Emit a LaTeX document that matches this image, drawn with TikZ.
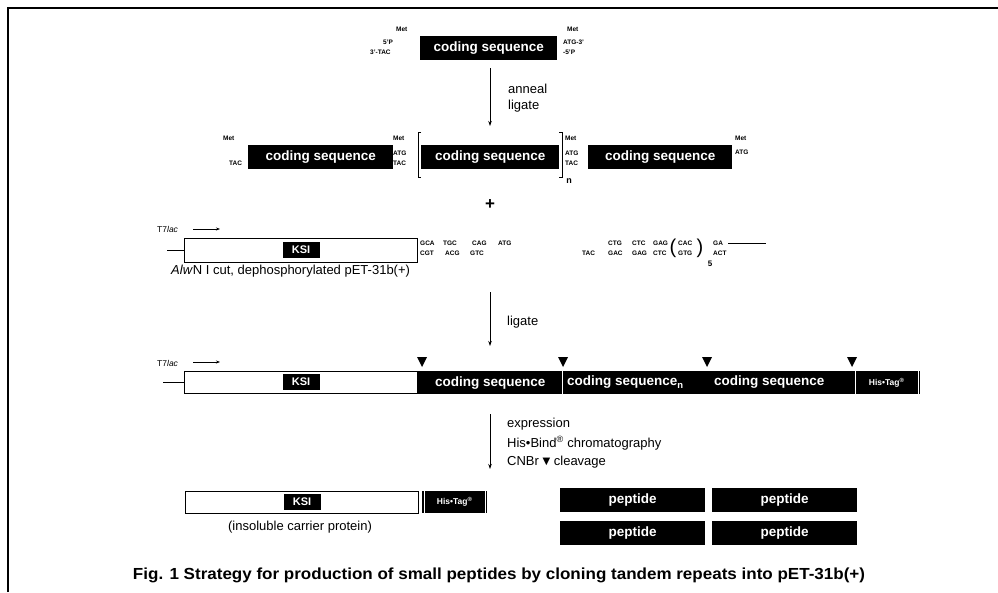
\documentclass[tikz,border=0pt]{standalone}
\usepackage{fontspec}
\setmainfont{Liberation Sans}
\usepackage{graphicx}
\usetikzlibrary{arrows.meta}
\tikzset{
  blk/.style={fill=black, text=white, font=\bfseries\fontsize{13.5}{14}\selectfont, inner sep=0, anchor=north west, minimum height=24pt},
  pep/.style={blk, minimum width=145pt},
  wbox/.style={draw=black, line width=1pt, fill=white, inner sep=0, anchor=north west, minimum height=22pt, minimum width=233pt},
  ksi/.style={fill=black, text=white, font=\bfseries\fontsize{11}{11}\selectfont, inner sep=0, minimum width=37pt, minimum height=16pt},
  dna/.style={font=\bfseries\fontsize{6.5}{7}\selectfont, inner sep=0, anchor=west},
  lbl/.style={font=\fontsize{13}{14}\selectfont, inner sep=0, anchor=west},
  tsm/.style={font=\fontsize{8.5}{9}\selectfont, inner sep=0, anchor=west},
  flow/.style={line width=0.8pt, -{Stealth[length=5pt,width=3.5pt]}},
  prom/.style={line width=0.8pt, -{Stealth[length=4pt,width=3pt]}},
  cut/.style={fill=black},
  his/.style={fill=black, text=white, font=\bfseries\fontsize{8.5}{9}\selectfont, inner sep=0, anchor=north west, minimum height=24pt},
}
\begin{document}
\begin{tikzpicture}[x=1pt,y=-1pt]
\useasboundingbox (0,0) rectangle (998,592);
% frame
\draw[line width=1.2pt] (8,592) -- (8,8) -- (998,8);

% ---- top duplex
\node[blk, minimum width=137pt] (top) at (420,36) {coding sequence};
\node[dna] (tm1) at (396,29) {Met};
\node[dna] (t5) at (383,42) {5'P};
\node[dna] (t3) at (370,52) {3'-TAC};
\node[dna] (tm2) at (567,29) {Met};
\node[dna] (tr1) at (563,42) {ATG-3'};
\node[dna] (tr2) at (563,52) {-5'P};

% arrow 1
\coordinate (a1s) at (490,68);
\coordinate (a1e) at (490,126);
\draw[flow] (a1s) -- (a1e);
\node[lbl] (anneal) at (508,89) {anneal};
\node[lbl] (ligate1) at (508,106) {ligate};

% ---- concatemer row
\node[blk, minimum width=145pt] (c1) at (248,145) {coding sequence};
\node[blk, minimum width=138pt] (c2) at (421,145) {coding sequence};
\node[blk, minimum width=144pt] (c3) at (588,145) {coding sequence};
\node[dna] (m1) at (223,138) {Met};
\node[dna] (b1) at (229,163) {TAC};
\node[dna] (m2) at (393,138) {Met};
\node[dna] (a2) at (393,153) {ATG};
\node[dna] (b2) at (393,163) {TAC};
\node[dna] (m3) at (565,138) {Met};
\node[dna] (a3) at (565,153) {ATG};
\node[dna] (b3) at (565,163) {TAC};
\node[dna] (m4) at (735,138) {Met};
\node[dna] (a4) at (735,152) {ATG};
\draw[line width=1pt] (421,132) -- (418,132) -- (418,177) -- (421,177);
\draw[line width=1pt] (559,132) -- (562,132) -- (562,177) -- (559,177);
\node[font=\bfseries\fontsize{9}{9}\selectfont, inner sep=0] (nn) at (569,181) {n};

% plus
\node[font=\bfseries\fontsize{17}{17}\selectfont, inner sep=0] (plus) at (490,205) {+};

% ---- vector row
\node[tsm] (t7a) at (157,229) {T7\textit{lac}};
\coordinate (p1s) at (193,229);
\coordinate (p1e) at (220,229);
\draw[prom] (p1s) -- (p1e);
\node[wbox, minimum height=24pt] (vec) at (184,238) {};
\coordinate (st1) at (167,250);
\draw[line width=1pt] (st1) -- (st1 -| vec.west);
\node[ksi] (ksi1) at (301,250) {KSI};
\node[dna] (l1) at (420,243) {GCA};
\node[dna] (l2) at (443,243) {TGC};
\node[dna] (l3) at (472,243) {CAG};
\node[dna] (l4) at (498,243) {ATG};
\node[dna] (l5) at (420,253) {CGT};
\node[dna] (l6) at (445,253) {ACG};
\node[dna] (l7) at (470,253) {GTC};
\node[dna] (r1) at (608,243) {CTG};
\node[dna] (r2) at (632,243) {CTC};
\node[dna] (r3) at (653,243) {GAG};
\node[dna] (r4) at (678,243) {CAC};
\node[dna] (r5) at (713,243) {GA};
\node[dna] (r6) at (582,253) {TAC};
\node[dna] (r7) at (608,253) {GAC};
\node[dna] (r8) at (632,253) {GAG};
\node[dna] (r9) at (653,253) {CTC};
\node[dna] (r10) at (678,253) {GTG};
\node[dna] (r11) at (713,253) {ACT};
\node[font=\fontsize{20}{20}\selectfont, inner sep=0] (lp) at (673,248) {(};
\node[font=\fontsize{20}{20}\selectfont, inner sep=0] (rp) at (700,248) {)};
\node[font=\bfseries\fontsize{8}{8}\selectfont, inner sep=0] (five) at (710,264) {5};
\draw[line width=0.9pt] ([xshift=5pt]r5.east) coordinate (ln1) -- ++(38,0) coordinate (ln2);
\node[lbl] (cutlbl) at (171,271) {\textit{Alw}N I cut, dephosphorylated pET-31b(+)};

% arrow 2
\coordinate (a2s) at (490,292);
\coordinate (a2e) at (490,346);
\draw[flow] (a2s) -- (a2e);
\node[lbl] (ligate2) at (507,322) {ligate};

% ---- recombinant row
\node[tsm] (t7b) at (157,363) {T7\textit{lac}};
\coordinate (p2s) at (193,362);
\coordinate (p2e) at (220,362);
\draw[prom] (p2s) -- (p2e);
\node[wbox] (vec2) at (184,371) {};
\coordinate (st2) at (163,382);
\draw[line width=1pt] (st2) -- (st2 -| vec2.west);
\node[ksi] (ksi2) at (301,382) {KSI};
\node[blk, minimum width=144pt, minimum height=23pt] (d1) at (418,371) {coding sequence};
\node[blk, minimum width=291pt, minimum height=23pt] (d2) at (562,371) {};
\node[font=\bfseries\fontsize{13.5}{14}\selectfont, text=white, inner sep=0, anchor=west] (d2a) at (567,382.5) {coding sequence\textsubscript{n}};
\node[font=\bfseries\fontsize{13.5}{14}\selectfont, text=white, inner sep=0, anchor=west] (d2b) at (714,382.5) {coding sequence};
\draw[white, line width=0.8pt] (d2.north west) -- (d2.south west);
\node[his, minimum width=67pt, minimum height=23pt] (ht1) at (853,371) {His\textbullet Tag\textsuperscript{\textregistered}};
\draw[white, line width=0.8pt] ([xshift=2.5pt]ht1.north west) -- ([xshift=2.5pt]ht1.south west);
\draw[white, line width=0.8pt] ([xshift=-2.5pt]ht1.north east) -- ([xshift=-2.5pt]ht1.south east);
\foreach \x in {422,563,707,852} \fill[cut] (\x-5,357) -- (\x+5,357) -- (\x,367) -- cycle;

% arrow 3
\coordinate (a3s) at (490,414);
\coordinate (a3e) at (490,469);
\draw[flow] (a3s) -- (a3e);
\node[lbl] (e1) at (507,424) {expression};
\node[lbl] (e2) at (507,443) {His\textbullet Bind\textsuperscript{\textregistered} chromatography};
\node[lbl] (e3) at (507,462) {CNBr \raisebox{0.5pt}{\fontspec{DejaVu Sans}\fontsize{10}{10}\selectfont ▼} cleavage};

% ---- products
\node[wbox] (vec3) at (185,491) {};
\node[ksi] (ksi3) at (302,502) {KSI};
\node[his, minimum width=65pt, minimum height=22pt] (ht2) at (422,491) {His\textbullet Tag\textsuperscript{\textregistered}};
\draw[white, line width=0.8pt] ([xshift=2.5pt]ht2.north west) -- ([xshift=2.5pt]ht2.south west);
\draw[white, line width=0.8pt] ([xshift=-2.5pt]ht2.north east) -- ([xshift=-2.5pt]ht2.south east);
\node[lbl, anchor=center] (insol) at (300,527) {(insoluble carrier protein)};
\node[pep] (pp1) at (560,488) {peptide};
\node[pep] (pp2) at (712,488) {peptide};
\node[pep] (pp3) at (560,521) {peptide};
\node[pep] (pp4) at (712,521) {peptide};

% caption
\node[inner sep=0] (cap) at (499,575) {\resizebox*{732pt}{15pt}{\bfseries Fig. 1 Strategy for production of small peptides by cloning tandem repeats into pET-31b(+)}};
\end{tikzpicture}
\end{document}
